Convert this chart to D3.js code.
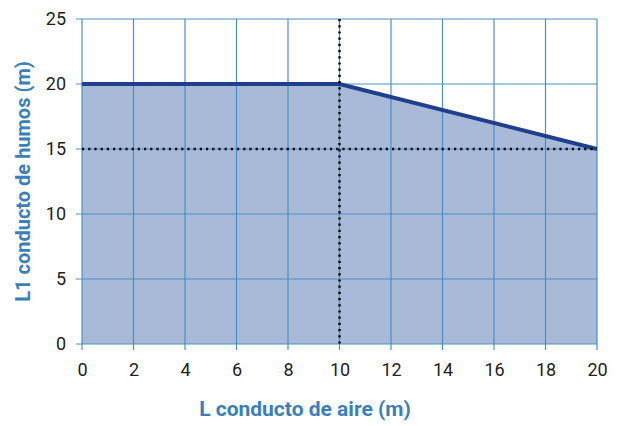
<!DOCTYPE html>
<html><head><meta charset="utf-8">
<script src="https://cdn.jsdelivr.net/npm/d3@7"></script>
<style>body{margin:0;background:#fff}</style>
</head><body>
<svg id="c" width="621" height="426"></svg>
<script>
const xValues = [0, 10, 20];
const yValues = [20, 20, 15];
const xTicks = [0, 2, 4, 6, 8, 10, 12, 14, 16, 18, 20];
const yTicks = [0, 5, 10, 15, 20, 25];
const refX = 10;
const refY = 15;
const xLabel = "L conducto de aire (m)";
const yLabel = "L1 conducto de humos (m)";

const svg = d3.select("#c");
const x = d3.scaleLinear().domain([0, 20]).range([82, 597]);
const y = d3.scaleLinear().domain([0, 25]).range([344, 19]);
const gridC = "#4b8fc6";
const font = "Roboto, 'Noto Sans', sans-serif";

const data = xValues.map((v, i) => ({x: v, y: yValues[i]}));

// area
svg.append("path").datum(data)
  .attr("d", d3.area().x(d => x(d.x)).y0(y(0)).y1(d => y(d.y)))
  .attr("fill", "#a9bad9");

// grid
svg.append("g").selectAll("line").data(xTicks).join("line")
  .attr("x1", d => x(d)).attr("x2", d => x(d))
  .attr("y1", y(25)).attr("y2", y(0) + 6)
  .attr("stroke", gridC).attr("stroke-width", 1.2);
svg.append("g").selectAll("line").data(yTicks).join("line")
  .attr("x1", x(0) - 6).attr("x2", x(20))
  .attr("y1", d => y(d)).attr("y2", d => y(d))
  .attr("stroke", gridC).attr("stroke-width", 1.2);

// line
svg.append("path").datum(data)
  .attr("d", d3.line().x(d => x(d.x)).y(d => y(d.y)))
  .attr("fill", "none").attr("stroke", "#1f3f8e").attr("stroke-width", 4);

// dotted refs
svg.append("line").attr("x1", x(refX)).attr("x2", x(refX)).attr("y1", y(25)).attr("y2", y(0))
  .attr("stroke", "#000").attr("stroke-width", 2.4).attr("stroke-dasharray", "2.2,4")
  .attr("stroke-linecap", "butt");
svg.append("line").attr("x1", x(0)).attr("x2", x(20)).attr("y1", y(refY)).attr("y2", y(refY))
  .attr("stroke", "#000").attr("stroke-width", 2.4).attr("stroke-dasharray", "2.2,4");

// axes tick labels
const xa = svg.append("g").attr("transform", `translate(0,${y(0)})`)
  .call(d3.axisBottom(x).tickValues(xTicks).tickSize(0).tickPadding(19).tickFormat(d3.format("d")));
const ya = svg.append("g").attr("transform", `translate(${x(0)},0)`)
  .call(d3.axisLeft(y).tickValues(yTicks).tickSize(0).tickPadding(16).tickFormat(d3.format("d")));
[xa, ya].forEach(g => {
  g.select(".domain").remove();
  g.selectAll("text").attr("font-family", font).attr("font-size", 18).attr("fill", "#222");
});

svg.append("text").attr("x", 305).attr("y", 416).attr("text-anchor", "middle")
  .attr("font-family", font).attr("font-weight", "bold").attr("font-size", 21)
  .attr("fill", "#3a7fb8").text(xLabel);
svg.append("text").attr("transform", `translate(30,${y(12.5)}) rotate(-90)`).attr("text-anchor", "middle")
  .attr("font-family", font).attr("font-weight", "bold").attr("font-size", 20)
  .attr("fill", "#3a7fb8").text(yLabel);
</script>
</body></html>
